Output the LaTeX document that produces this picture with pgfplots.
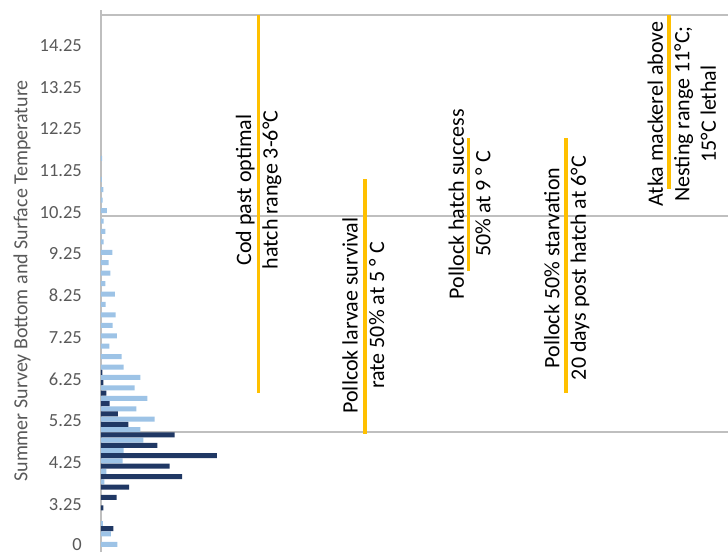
\documentclass[border=0pt]{standalone}
\usepackage{pgfplots}
\pgfplotsset{compat=1.18}
\usepackage{fontspec}
\setmainfont{Carlito}
\definecolor{lightb}{HTML}{9DC3E6}
\definecolor{darkb}{HTML}{203864}
\definecolor{gold}{HTML}{FFC000}
\definecolor{gridc}{HTML}{BFBFBF}
\definecolor{tickc}{HTML}{595959}
\begin{document}
\begin{tikzpicture}
% overlay axis in pixel-like coordinates: gridlines, threshold bars, notes
\begin{axis}[scale only axis, width=627pt, height=542.4pt,
  xmin=0, xmax=627, ymin=9.8, ymax=552.2, y dir=reverse,
  hide axis, clip=false]
\addplot[gridc, line width=1.3pt] coordinates {(0,15) (627,15)};
\addplot[gridc, line width=1.3pt] coordinates {(0,216) (627,216)};
\addplot[gridc, line width=1.3pt] coordinates {(0,432) (627,432)};
\addplot[gold, line width=3.5pt] coordinates {(157.3,15) (157.3,392.7)};
\addplot[gold, line width=3.5pt] coordinates {(264,179.3) (264,434)};
\addplot[gold, line width=3.5pt] coordinates {(367.3,138.3) (367.3,270.7)};
\addplot[gold, line width=3.5pt] coordinates {(465,138.3) (465,393.3)};
\addplot[gold, line width=3.5pt] coordinates {(568,15) (568,189.3)};
\begin{scope}[every node/.style={rotate=90, align=center, inner sep=0pt, font=\fontsize{22}{26.5}\selectfont}]
\node at (axis cs:157.7,190) {Cod past optimal\\hatch range 3-6°C};
\node at (axis cs:262.3,315.5) {Pollcok larvae survival\\rate 50\% at 5 ° C};
\node at (axis cs:368.5,204) {Pollock hatch success\\50\% at 9 ° C};
\node at (axis cs:465.7,268) {Pollock 50\% starvation\\20 days post hatch at 6°C};
\node at (axis cs:580.7,114) {Atka mackerel above\\Nesting range 11°C;\\15°C lethal};
\end{scope}
\node[rotate=90, inner sep=0pt, text=tickc, font=\fontsize{20}{24}\selectfont] at (axis cs:-79,281) {Summer Survey Bottom and Surface Temperature};
\end{axis}
% bar axis
\begin{axis}[scale only axis, width=627pt, height=542.4pt,
  xmin=0, xmax=627, ymin=-0.5, ymax=51.5,
  axis x line=none, axis y line*=left,
  axis line style={gridc, line width=1.5pt},
  ytick={0,4,8,12,16,20,24,28,32,36,40,44,48},
  yticklabels={\raisebox{2pt}{0},3.25,4.25,5.25,6.25,7.25,8.25,9.25,10.25,11.25,12.25,13.25,14.25},
  major tick length=0pt,
  yticklabel style={anchor=east, inner sep=0pt, text depth=0pt, yshift=1pt, xshift=-19pt, text=tickc, font=\fontsize{18.5}{20}\selectfont},
  bar width=0.48]
\addplot[xbar, bar shift=0.25, fill=lightb, draw=none] coordinates {
(16.5,0) (9.8,1) (2,2) (3.3,6) (5.5,7) (21.7,8) (22.7,9) (42.5,10) (39.3,11)
(53.7,12) (35.5,13) (46.5,14) (33.7,15) (39.3,16) (22.7,17) (20.7,18) (8.3,19)
(16,20) (11.7,21) (14.7,22) (4.7,23) (14,24) (4.3,25) (9.5,26) (7.7,27) (11.3,28)
(2.7,29) (4.3,30) (2.7,31) (6,32) (1.7,33) (2.3,34) (1,35) (1.2,37)};
\addplot[xbar, bar shift=-0.25, fill=darkb, draw=none] coordinates {
(12.5,2) (2.3,4) (15.7,5) (28.2,6) (81.2,7) (68.7,8) (116,9) (56.5,10) (73.7,11)
(27.3,12) (17,13) (8.7,14) (5.3,15) (2.3,16) (1.5,17)};
\end{axis}
\pgfresetboundingbox
\useasboundingbox (-101pt,-2.8pt) rectangle (627pt,552.2pt);
\end{tikzpicture}
\end{document}
